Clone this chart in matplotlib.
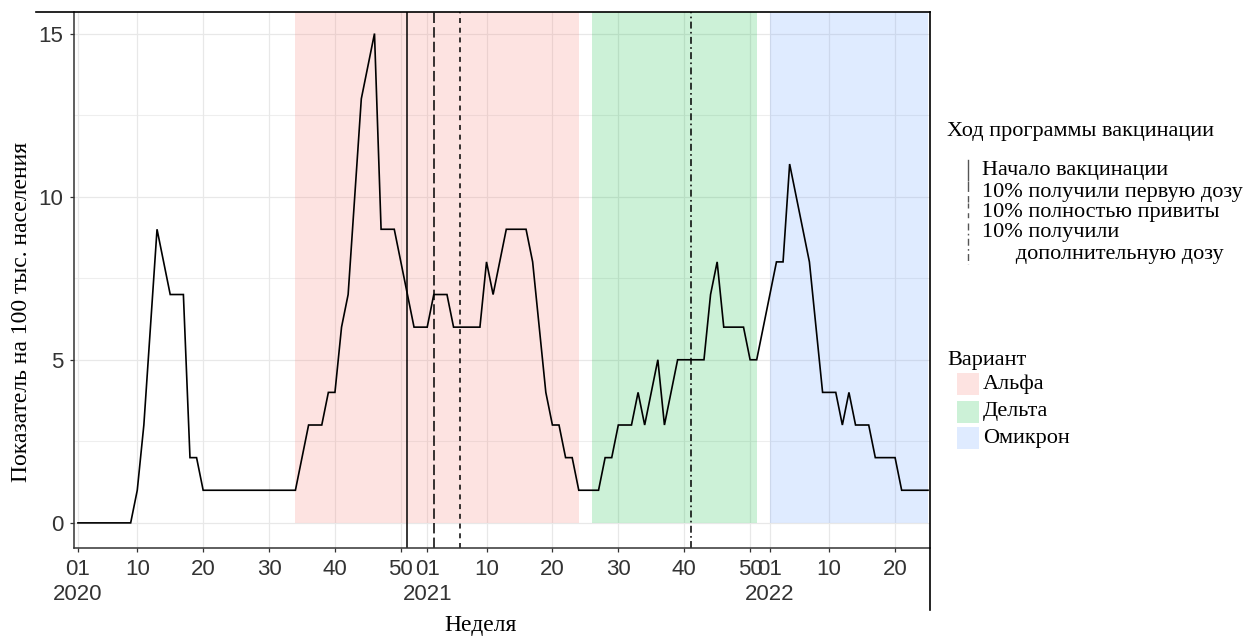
import matplotlib
matplotlib.use("Agg")
import matplotlib.pyplot as plt
from matplotlib.lines import Line2D
from matplotlib.patches import Rectangle

# Weekly incidence per 100k population, 2020-W01 .. 2022-W25
rate = [
    0, 0, 0, 0, 0, 0, 0, 0, 0, 1, 3, 6, 9, 8, 7, 7, 7, 2, 2, 1,
    1, 1, 1, 1, 1, 1, 1, 1, 1, 1, 1, 1, 1, 1, 2, 3, 3, 3, 4, 4,
    6, 7, 10, 13, 14, 15, 9, 9, 9, 8, 7, 6, 6, 6, 7, 7, 7, 6, 6, 6,
    6, 6, 8, 7, 8, 9, 9, 9, 9, 8, 6, 4, 3, 3, 2, 2, 1, 1, 1, 1,
    2, 2, 3, 3, 3, 4, 3, 4, 5, 3, 4, 5, 5, 5, 5, 5, 7, 8, 6, 6,
    6, 6, 5, 5, 6, 7, 8, 8, 11, 10, 9, 8, 6, 4, 4, 4, 3, 4, 3, 3,
    3, 2, 2, 2, 2, 1, 1, 1, 1, 1,
]
first_year, first_week = 2020, 1
weeks_in_year = {2020: 53, 2021: 52, 2022: 52}

# Tick labels as (year, week)
x_ticks = [(2020, 1), (2020, 10), (2020, 20), (2020, 30), (2020, 40), (2020, 50),
           (2021, 1), (2021, 10), (2021, 20), (2021, 30), (2021, 40), (2021, 50),
           (2022, 1), (2022, 10), (2022, 20)]
y_ticks = [0, 5, 10, 15]
y_minor = [2.5, 7.5, 12.5]

# Dominant variant periods (first week, last week)
variant_names = ["Альфа", "Дельта", "Омикрон"]
variant_periods = [((2020, 34), (2021, 24)),
                   ((2021, 26), (2021, 51)),
                   ((2022, 1), (2022, 25))]
variant_colors = ["#F8766D", "#00BA38", "#619CFF"]

# Vaccination programme milestones
vacc_names = ["Начало вакцинации", "10% получили первую дозу",
              "10% полностью привиты", "10% получили\n      дополнительную дозу"]
vacc_weeks = [(2020, 51), (2021, 2), (2021, 6), (2021, 41)]
vacc_styles = ["-", (0, (7.5, 3.0)), (0, (3.6, 3.4)), (0, (5.0, 2.4, 1.2, 2.4))]


def week_index(year, week):
    idx = 0
    for y in range(first_year, year):
        idx += weeks_in_year[y]
    return idx + week - first_week


plt.rcParams["lines.scale_dashes"] = False
SERIF = "Liberation Serif"
SANS = "Liberation Sans"

W, H = 1248, 636
fig = plt.figure(figsize=(W / 100, H / 100), dpi=100)
fig.patch.set_facecolor("white")


def fx(x):
    return x / W


def fy(y):
    return 1 - y / H


ax = fig.add_axes([fx(74), fy(548), fx(930 - 74), (548 - 12) / H])
ax.set_facecolor("white")

xs = list(range(len(rate)))

# grid
for t in y_ticks:
    ax.axhline(t, color="#E8E8E8", lw=0.9, zorder=0)
for t in y_minor:
    ax.axhline(t, color="#EEEEEE", lw=0.8, zorder=0)
for yw in x_ticks:
    ax.axvline(week_index(*yw), color="#E8E8E8", lw=0.9, zorder=0)

# variant shading
for (start, end), col in zip(variant_periods, variant_colors):
    x0 = week_index(*start)
    x1 = week_index(*end)
    ax.add_patch(Rectangle((x0, 0), x1 - x0, 100, facecolor=col, alpha=0.2,
                           edgecolor="none", zorder=1))

# vaccination milestones
for yw, ls in zip(vacc_weeks, vacc_styles):
    ax.axvline(week_index(*yw), color="black", lw=1.1, linestyle=ls, zorder=2)

ax.plot(xs, rate, color="black", lw=1.2, zorder=3, solid_joinstyle="miter")

ax.set_xlim(-0.6, 129.3)
ax.set_ylim(-0.77, 15.66)

ax.set_yticks(y_ticks)
ax.set_yticklabels([str(t) for t in y_ticks], fontfamily=SANS, fontsize=16,
                   color="#333333")
ax.set_xticks([week_index(*yw) for yw in x_ticks])
xlabels = []
for y, w in x_ticks:
    lab = f"{w:02d}"
    if w == 1:
        lab += f"\n{y}"
    xlabels.append(lab)
ax.set_xticklabels(xlabels, fontfamily=SANS, fontsize=16, color="#333333",
                   linespacing=1.3)
ax.tick_params(axis="both", length=3.2, width=0.9, color="#333333")
ax.tick_params(axis="x", pad=4.5)
ax.tick_params(axis="y", pad=4.5)

for side in ["top", "right"]:
    ax.spines[side].set_visible(False)
for side in ["left", "bottom"]:
    ax.spines[side].set_color("#333333")
    ax.spines[side].set_linewidth(1.1)

# axis titles
fig.text(fx(22), fy(312), "Показатель на 100 тыс. населения", rotation=90,
         ha="center", va="center", fontfamily=SERIF, fontsize=17, color="black")
fig.text(fx(481), fy(626), "Неделя", ha="center", va="center",
         fontfamily=SERIF, fontsize=17, color="black")

# outer frame
fig.add_artist(Line2D([fx(36), fx(930)], [fy(12), fy(12)], color="black", lw=1.2))
fig.add_artist(Line2D([fx(930), fx(930)], [fy(12), fy(610)], color="black", lw=1.2))

# legend: vaccination programme
LEG_FS = 16
fig.text(fx(947), fy(132), "Ход программы вакцинации", ha="left", va="center",
         fontfamily=SERIF, fontsize=LEG_FS)
row_centers = [170, 192.5, 213, 233]
key_spans = [(160, 180), (181, 202), (203, 222), (223, 264)]
for name, ls, yc, (k0, k1) in zip(vacc_names, vacc_styles, row_centers, key_spans):
    fig.add_artist(Line2D([fx(967.7), fx(967.7)], [fy(k0), fy(k1)],
                          color="#555555", lw=1.0, linestyle=ls))
    for j, ln in enumerate(name.split("\n")):
        fig.text(fx(982), fy(yc + 21 * j), ln, ha="left", va="center",
                 fontfamily=SERIF, fontsize=LEG_FS)

# legend: variant
fig.text(fx(947), fy(361), "Вариант", ha="left", va="center",
         fontfamily=SERIF, fontsize=LEG_FS)
sw_centers = [384, 411.7, 438.3]
for name, col, yc in zip(variant_names, variant_colors, sw_centers):
    fig.add_artist(Rectangle((fx(956.7), fy(yc + 11)), fx(22.6), 22 / H,
                             facecolor=col, alpha=0.2, edgecolor="none",
                             transform=fig.transFigure))
    fig.text(fx(983), fy(yc), name, ha="left", va="center",
             fontfamily=SERIF, fontsize=LEG_FS)

fig.savefig("out.png", dpi=100, facecolor="white")
